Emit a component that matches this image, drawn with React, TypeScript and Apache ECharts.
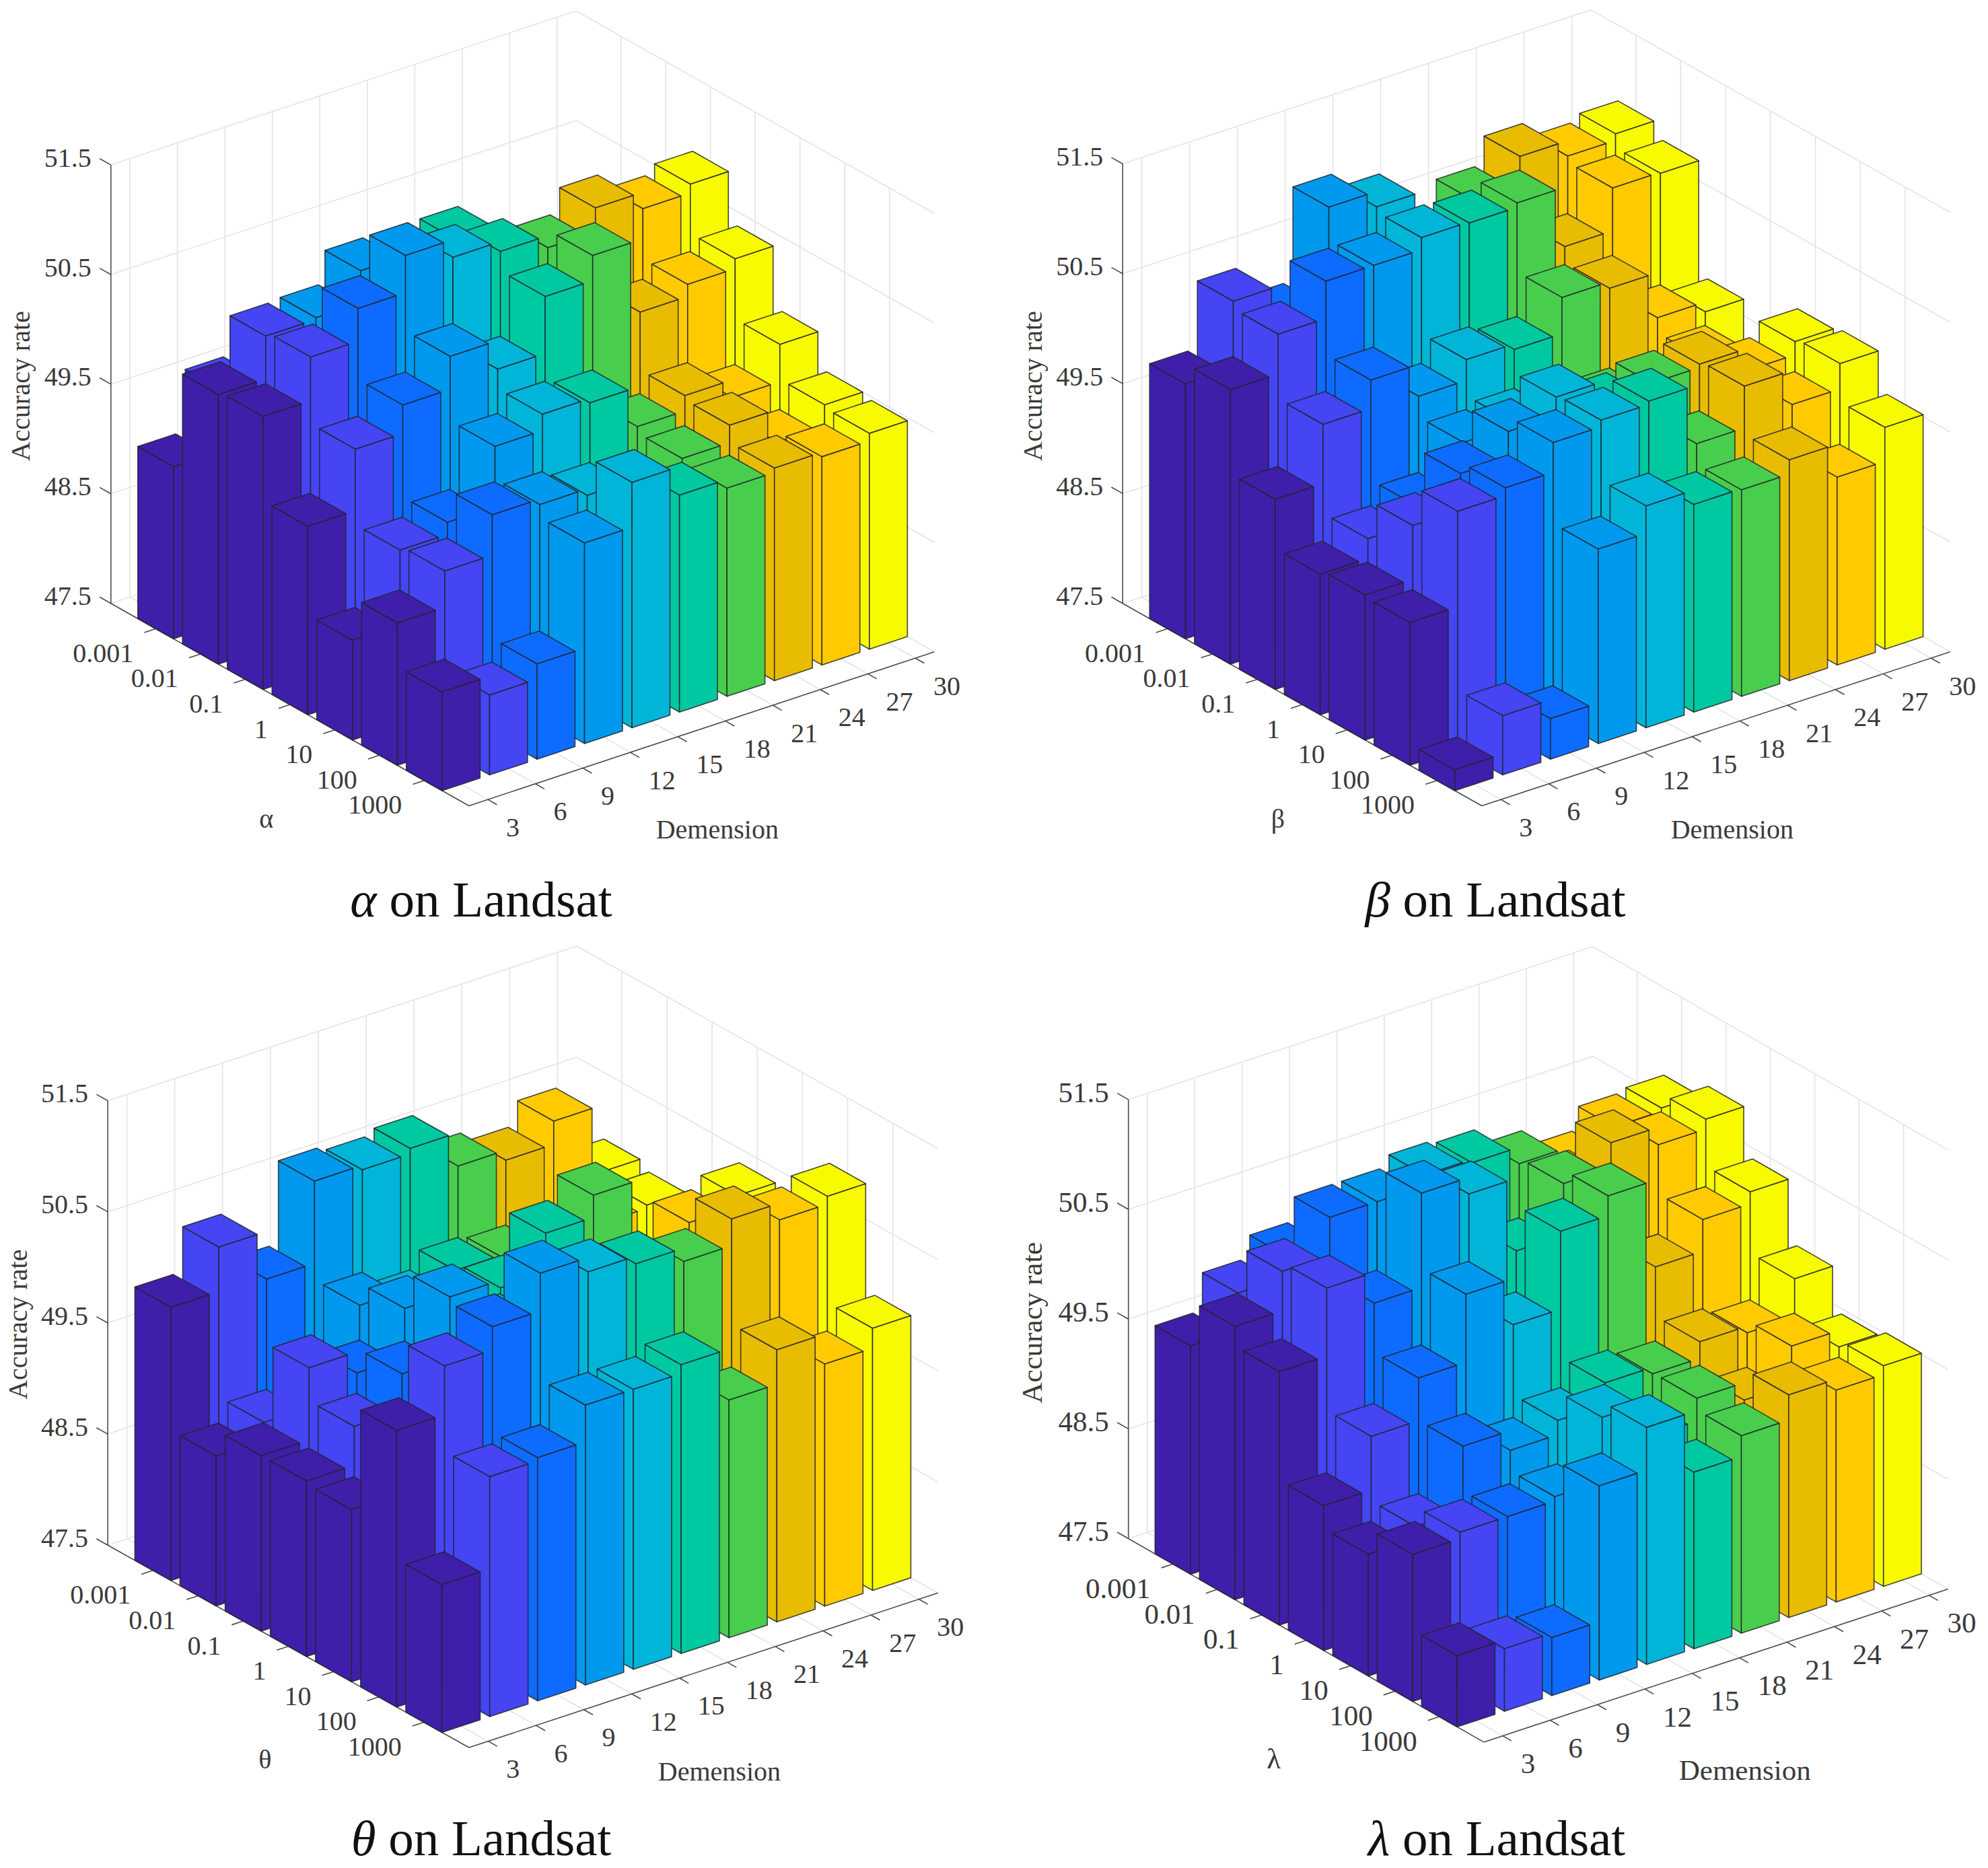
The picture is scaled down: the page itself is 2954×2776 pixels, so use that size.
import React, { useEffect, useRef } from "react";
import * as echarts from "echarts";

const WIDTH = 2954;
const HEIGHT = 2776;
const PANEL_W = 1477;
const PANEL_H = 1388;

const dimensionLabels = ["3", "6", "9", "12", "15", "18", "21", "24", "27", "30"];
const paramLabels = ["0.001", "0.01", "0.1", "1", "10", "100", "1000"];
const accuracyTicks = [47.5, 48.5, 49.5, 50.5, 51.5];
const dimColors = ["#3f1fa9", "#4545f4", "#0d6cff", "#0099ee", "#00b5d8", "#00c8a0", "#48ce4c", "#e8bc00", "#ffcb00", "#f8fa00"];

// one row per Dimension (3..30), each row holds the seven parameter values (0.001..1000)
const alphaValues = [
  [49.07, 49.96, 49.99, 49.22, 48.41, 48.8, 48.4],
  [49.63, 50.35, 50.39, 49.78, 49.09, 49.13, 48.23],
  [49.6, 49.7, 50.69, 50.04, 49.2, 49.5, 48.37],
  [50.0, 50.66, 51.03, 50.34, 49.75, 49.45, 49.33],
  [50.0, 50.4, 50.87, 50.08, 49.9, 49.39, 49.74],
  [49.9, 50.66, 50.78, 50.6, 49.86, 49.1, 49.48],
  [50.0, 50.2, 50.67, 50.83, 49.5, 49.44, 49.4],
  [49.8, 50.0, 50.89, 50.17, 49.64, 49.6, 49.44],
  [49.6, 50.2, 50.74, 50.28, 49.48, 49.3, 49.4],
  [49.7, 50.1, 50.82, 50.37, 49.82, 49.5, 49.47],
];
const betaValues = [
  [49.82, 50.0, 49.23, 48.78, 48.82, 48.8, 47.69],
  [50.43, 50.36, 49.77, 48.96, 49.31, 49.67, 48.04],
  [50.15, 50.7, 50.03, 49.12, 49.64, 49.74, 47.87],
  [51.0, 50.7, 49.74, 49.55, 49.88, 50.01, 49.27],
  [50.86, 50.81, 49.93, 49.6, 50.05, 50.07, 49.52],
  [50.3, 50.8, 49.88, 49.6, 49.83, 50.1, 49.39],
  [50.64, 50.84, 50.21, 49.5, 49.89, 49.57, 49.38],
  [50.89, 50.3, 50.15, 49.3, 49.92, 49.95, 49.51],
  [50.75, 50.69, 49.74, 49.6, 49.72, 49.64, 49.21],
  [50.81, 50.68, 49.65, 49.3, 49.84, 49.87, 49.52],
];
const thetaValues = [
  [49.96, 48.85, 49.08, 49.08, 49.05, 49.99, 48.83],
  [50.36, 49.01, 49.73, 49.43, 49.4, 50.43, 49.66],
  [49.93, 49.34, 49.54, 49.76, 49.7, 50.64, 49.69],
  [50.67, 49.78, 49.98, 50.31, 50.0, 50.98, 50.02],
  [50.63, 49.66, 49.7, 49.9, 50.2, 50.85, 50.02],
  [50.68, 49.81, 49.88, 50.6, 50.3, 50.78, 50.1],
  [50.38, 49.78, 49.9, 50.8, 50.2, 50.66, 49.64],
  [50.29, 49.7, 49.96, 50.0, 50.1, 50.9, 49.95],
  [50.5, 49.8, 49.5, 50.27, 50.1, 50.75, 49.68],
  [49.9, 49.83, 49.6, 50.37, 50.0, 50.82, 49.86],
];
const lambdaValues = [
  [49.58, 49.99, 49.81, 48.82, 48.61, 48.84, 48.15],
  [49.92, 50.35, 50.43, 49.31, 48.72, 48.9, 48.07],
  [50.12, 50.7, 50.15, 49.7, 49.31, 48.9, 48.03],
  [50.1, 50.7, 51.01, 50.32, 49.13, 48.94, 49.27],
  [50.1, 50.8, 50.86, 49.9, 49.26, 49.52, 49.66],
  [50.2, 50.77, 50.2, 50.61, 49.46, 49.2, 49.11],
  [50.2, 50.62, 50.67, 50.79, 49.4, 49.41, 49.3],
  [50.0, 50.3, 50.9, 50.0, 49.55, 49.25, 49.53],
  [50.1, 50.67, 50.74, 50.29, 49.49, 49.6, 49.43],
  [49.9, 50.7, 50.83, 50.4, 49.84, 49.45, 49.51],
];

const panels = [
  { sym: "α", values: alphaValues, ox: 0, oy: 0, L: [164.8, 896.7], D: [70.55, -23.35], P: [66.5, 37.6], V: 162.9, font: 40, titleX: 710, titleY: 1337,
    yName: [-134, -323], symOff: [-301, 19], demOff: [369, 35] },
  { sym: "β", values: betaValues, ox: 1477, oy: 0, L: [191.2, 896.7], D: [71.0, -23.35], P: [66.7, 37.6], V: 163.3, font: 40, titleX: 2217, titleY: 1337,
    yName: [-134, -323], symOff: [-303, 19], demOff: [372, 35] },
  { sym: "θ", values: thetaValues, ox: 0, oy: 1388, L: [160.1, 908.2], D: [71.1, -23.45], P: [67.1, 37.6], V: 165.1, font: 40, titleX: 710, titleY: 2732,
    yName: [-134, -328], symOff: [-303, 17], demOff: [372, 35] },
  { sym: "λ", values: lambdaValues, ox: 1477, oy: 1388, L: [199.7, 898.5], D: [70.4, -23.2], P: [66.0, 37.8], V: 163.1, font: 43, titleX: 2219, titleY: 2732,
    yName: [-143, -321], symOff: [-312, 25], demOff: [388, 42] },
];

const Z_MIN = 47.5;
const Z_MAX = 51.5;
const D_MIN = 0.6;
const D_MAX = 10.4;
const P_MAX = 8;
const HALF = 0.4;
const FONT = "'Liberation Serif', 'Times New Roman', serif";
const TEXT = "#3a3a3a";
const AXIS = "#4a4a4a";
const GRID = "#e4e4e4";
const EDGE = "rgba(35,35,45,0.85)";

type Panel = (typeof panels)[number];

function project(pn: Panel, d: number, p: number, z: number): number[] {
  return [
    pn.L[0] + (d - D_MIN) * pn.D[0] + p * pn.P[0],
    pn.L[1] + (d - D_MIN) * pn.D[1] + p * pn.P[1] - (z - Z_MIN) * pn.V,
  ];
}

function frameRender(pn: Panel) {
  return (_params: any, api: any) => {
    const c = (d: number, p: number, z: number) => api.coord(project(pn, d, p, z));
    const children: any[] = [];
    const line = (a: number[], b: number[], stroke: string, w: number) =>
      children.push({ type: "line", shape: { x1: a[0], y1: a[1], x2: b[0], y2: b[1] }, style: { stroke, lineWidth: w, fill: "none" } });
    const text = (txt: string, x: number, y: number, align: string, rotation = 0) =>
      children.push({
        type: "text",
        x,
        y,
        rotation,
        style: { text: txt, x: 0, y: 0, align, verticalAlign: "middle", fontFamily: FONT, fontSize: pn.font, fill: TEXT },
      });

    // walls and floor
    accuracyTicks.forEach((z) => {
      line(c(D_MIN, 0, z), c(D_MAX, 0, z), GRID, 1.6);
      line(c(D_MAX, 0, z), c(D_MAX, P_MAX, z), GRID, 1.6);
    });
    dimensionLabels.forEach((_, i) => {
      const d = i + 1;
      line(c(d, 0, Z_MIN), c(d, 0, Z_MAX), GRID, 1.6);
      line(c(d, 0, Z_MIN), c(d, P_MAX, Z_MIN), GRID, 1.6);
    });
    paramLabels.forEach((_, i) => {
      const p = i + 1;
      line(c(D_MAX, p, Z_MIN), c(D_MAX, p, Z_MAX), GRID, 1.6);
      line(c(D_MIN, p, Z_MIN), c(D_MAX, p, Z_MIN), GRID, 1.6);
    });

    // axes
    line(c(D_MIN, 0, Z_MIN), c(D_MIN, 0, Z_MAX), AXIS, 1.6);
    line(c(D_MIN, 0, Z_MIN), c(D_MIN, P_MAX, Z_MIN), AXIS, 1.6);
    line(c(D_MIN, P_MAX, Z_MIN), c(D_MAX, P_MAX, Z_MIN), AXIS, 1.6);

    accuracyTicks.forEach((z) => {
      const a = c(D_MIN, 0, z);
      line(a, c(D_MIN, -0.25, z), AXIS, 1.6);
      text(z.toFixed(1), a[0] - 29, a[1] - 11, "right");
    });
    paramLabels.forEach((lab, i) => {
      const p = i + 1;
      const a = c(D_MIN, p, Z_MIN);
      line(a, c(D_MIN - 0.24, p, Z_MIN), AXIS, 1.6);
      text(lab, a[0] - 33, a[1] + 36, "right");
    });
    dimensionLabels.forEach((lab, i) => {
      const d = i + 1;
      const a = c(d, P_MAX, Z_MIN);
      line(a, c(d, P_MAX + 0.2, Z_MIN), AXIS, 1.6);
      text(lab, a[0] + 27, a[1] + 41, "left");
    });

    const l = c(D_MIN, 0, Z_MIN);
    const f = c(D_MIN, P_MAX, Z_MIN);
    text("Accuracy rate", l[0] + pn.yName[0], l[1] + pn.yName[1], "center", Math.PI / 2);
    text(pn.sym, f[0] + pn.symOff[0], f[1] + pn.symOff[1], "center");
    text("Demension", f[0] + pn.demOff[0], f[1] + pn.demOff[1], "center");
    return { type: "group", children };
  };
}

function barRender(pn: Panel) {
  return (_params: any, api: any) => {
    const d = api.value(0);
    const p = api.value(1);
    const z = api.value(2);
    const c = (dd: number, pp: number, zz: number) => api.coord(project(pn, dd, pp, zz));
    const fill = dimColors[d - 1];
    const d0 = d - HALF;
    const d1 = d + HALF;
    const p0 = p - HALF;
    const p1 = p + HALF;
    const face = (points: number[][]) => ({
      type: "polygon",
      shape: { points },
      style: { fill, stroke: EDGE, lineWidth: 1.6, lineJoin: "round" },
    });
    return {
      type: "group",
      children: [
        face([c(d0, p0, Z_MIN), c(d0, p1, Z_MIN), c(d0, p1, z), c(d0, p0, z)]),
        face([c(d0, p1, Z_MIN), c(d1, p1, Z_MIN), c(d1, p1, z), c(d0, p1, z)]),
        face([c(d0, p0, z), c(d0, p1, z), c(d1, p1, z), c(d1, p0, z)]),
      ],
    };
  };
}

function paintOrder(values: number[][]): number[][] {
  const out: number[][] = [];
  for (let d = values.length; d >= 1; d--) {
    for (let p = 1; p <= values[d - 1].length; p++) {
      out.push([d, p, values[d - 1][p - 1]]);
    }
  }
  return out;
}

function buildOption() {
  const grid = panels.map((pn) => ({ left: pn.ox, top: pn.oy, width: PANEL_W, height: PANEL_H, containLabel: false }));
  const xAxis = panels.map((_, i) => ({ type: "value", gridIndex: i, min: 0, max: PANEL_W, show: false }));
  const yAxis = panels.map((_, i) => ({ type: "value", gridIndex: i, min: 0, max: PANEL_H, inverse: true, show: false }));
  const series: any[] = [];
  panels.forEach((pn, i) => {
    series.push({
      type: "custom",
      coordinateSystem: "cartesian2d",
      xAxisIndex: i,
      yAxisIndex: i,
      clip: false,
      silent: true,
      data: [[0, 0]],
      renderItem: frameRender(pn),
    });
    series.push({
      type: "custom",
      coordinateSystem: "cartesian2d",
      xAxisIndex: i,
      yAxisIndex: i,
      clip: false,
      silent: true,
      dimensions: ["dimension", "parameter", "accuracy"],
      encode: { x: 0, y: 1 },
      data: paintOrder(pn.values),
      renderItem: barRender(pn),
    });
  });
  const title = panels.map((pn) => ({
    text: `{i|${pn.sym}} on Landsat`,
    left: pn.titleX,
    top: pn.titleY - 43,
    textAlign: "center",
    textStyle: {
      fontFamily: FONT,
      fontSize: 75,
      fontWeight: "normal",
      color: "#111111",
      rich: { i: { fontFamily: FONT, fontSize: 75, fontStyle: "italic", color: "#111111" } },
    },
  }));
  return { animation: false, backgroundColor: "#ffffff", title, grid, xAxis, yAxis, series };
}

export default function App() {
  const ref = useRef<HTMLDivElement>(null);
  useEffect(() => {
    if (!ref.current) return;
    const chart = echarts.init(ref.current, undefined, { renderer: "svg" });
    chart.setOption(buildOption() as any);
    return () => chart.dispose();
  }, []);
  return <div ref={ref} style={{ position: "absolute", left: 0, top: 0, width: WIDTH, height: HEIGHT }} />;
}
